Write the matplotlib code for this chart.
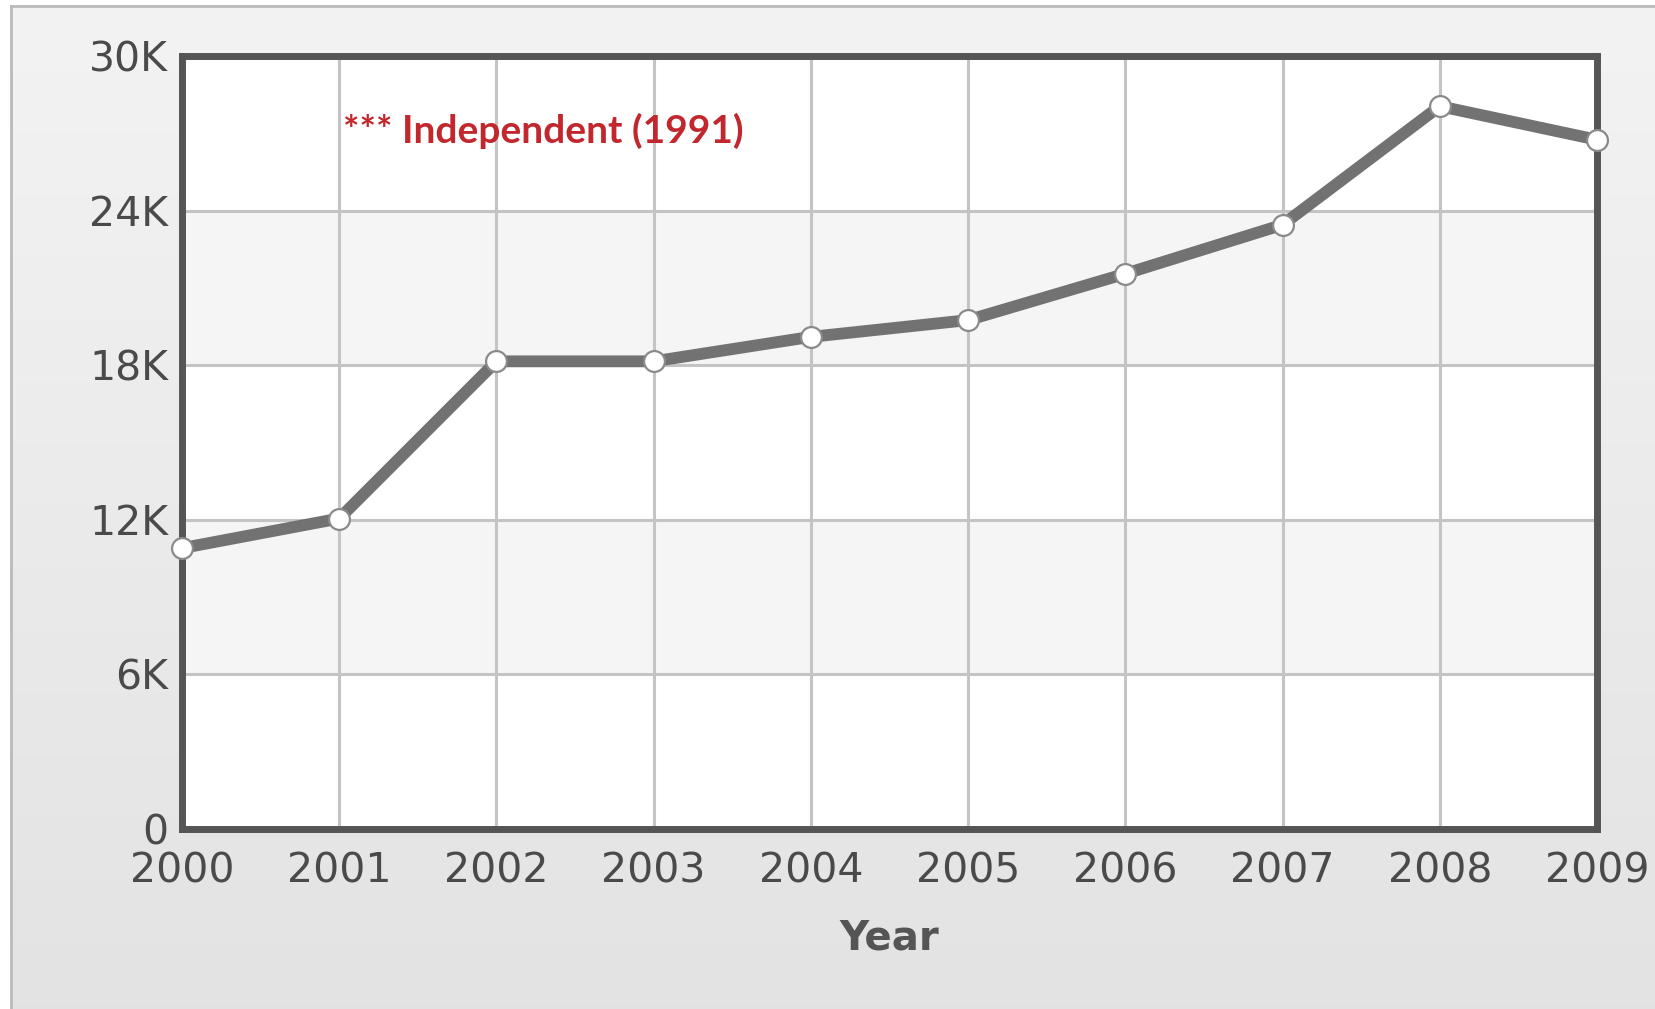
import numpy as np
import matplotlib
matplotlib.use("Agg")
import matplotlib.pyplot as plt
from matplotlib.lines import Line2D

years = [2000, 2001, 2002, 2003, 2004, 2005, 2006, 2007, 2008, 2009]
values = [10900, 12050, 18150, 18150, 19100, 19750, 21550, 23450, 28050, 26750]
y_ticks = [0, 6000, 12000, 18000, 24000, 30000]
y_tick_labels = ["0", "6K", "12K", "18K", "24K", "30K"]
x_label = "Year"
note = "*** Independent (1991)"

W, H = 1655, 1009
fig = plt.figure(figsize=(W / 100, H / 100), dpi=100)
fig.patch.set_facecolor("white")

# background gradient panel
bg = fig.add_axes([0, 0, 1, 1], zorder=-10)
bg.set_xlim(0, W)
bg.set_ylim(H, 0)
bg.axis("off")
grad = np.linspace(0.953, 0.89, 256).reshape(-1, 1)
bg.imshow(np.dstack([grad, grad, grad]), extent=[11, W, H, 5.5], aspect="auto",
          interpolation="bilinear")
bg.add_line(Line2D([11.3, 11.3], [5.5, H], color="#bababa", lw=2))
bg.add_line(Line2D([11.3, W], [5.5, 5.5], color="#bababa", lw=2))

left, right, top, bottom = 182, 1597, 56, 829
ax = fig.add_axes([left / W, 1 - bottom / H, (right - left) / W, (bottom - top) / H])
ax.set_facecolor("white")
ax.set_xlim(years[0], years[-1])
ax.set_ylim(y_ticks[0], y_ticks[-1])

for i in range(len(y_ticks) - 1):
    if i % 2 == 1:
        ax.axhspan(y_ticks[i], y_ticks[i + 1], color="#f5f5f5", zorder=0, lw=0)

ax.set_xticks(years)
ax.set_xticklabels([str(y) for y in years])
ax.set_yticks(y_ticks)
ax.set_yticklabels(y_tick_labels)
ax.grid(True, color="#c4c4c4", lw=2.2, zorder=1)
ax.set_axisbelow(True)
ax.tick_params(length=0, labelsize=29.5, labelcolor="#4a4a4a")
ax.tick_params(axis="x", pad=16)
ax.tick_params(axis="y", pad=10)
for s in ax.spines.values():
    s.set_color("#555555")
    s.set_linewidth(5)
    s.set_zorder(5)

ax.plot(years, values, color="#727272", lw=8.5, zorder=6, clip_on=False,
        solid_joinstyle="round")
ax.plot(years, values, ls="none", marker="o", ms=15, mfc="white", mec="#8a8a8a",
        mew=1.6, zorder=7, clip_on=False)

ax.set_xlabel(x_label, fontsize=29, fontweight="bold", color="#555555", labelpad=20)

ax.text((343 - left) / (right - left), (bottom - 131) / (bottom - top), note,
        transform=ax.transAxes, ha="left", va="center", fontsize=28,
        fontweight="bold", color="#c1272d", family=["Lato", "DejaVu Sans"], zorder=8)

fig.savefig("out.png", dpi=100)
